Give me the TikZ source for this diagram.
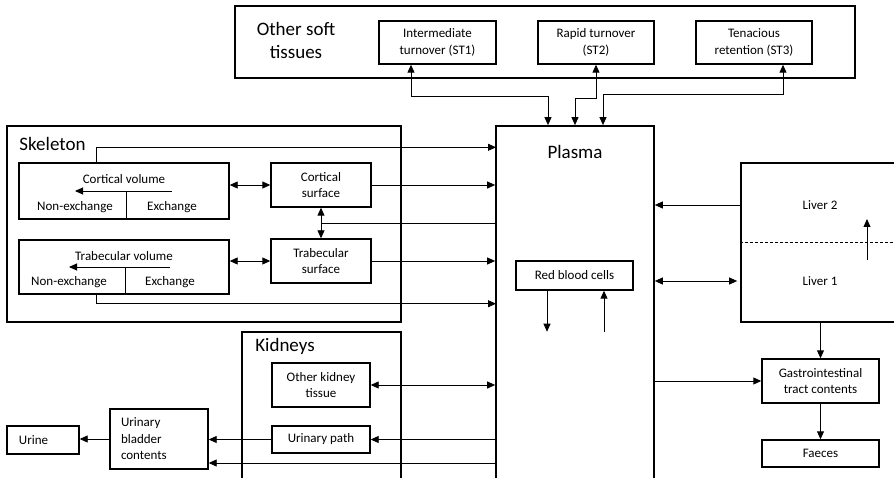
\documentclass[tikz,border=0pt]{standalone}
\usepackage{fontspec}
\setmainfont{Carlito}
\usetikzlibrary{arrows.meta,calc}

\begin{document}
\begin{tikzpicture}[x=1pt,y=-1pt,>={Triangle[length=8pt,width=7pt]},line width=0.9pt,
  box node/.style={draw,line width=1.4pt,inner sep=0pt,align=center,font=\fontsize{13}{16.5}\selectfont},
  group node/.style={draw,line width=1.7pt,inner sep=0pt},
  title node/.style={inner sep=0pt,align=center,font=\fontsize{19}{23}\selectfont},
  text node/.style={inner sep=0pt,font=\fontsize{13}{16}\selectfont}]

  \useasboundingbox (0,0) rectangle (894,478);

  \node[group node,minimum width=620pt,minimum height=72pt] (soft) at (545,42) {};
  \node[title node] (softt) at (296,40) {Other soft\\tissues};
  \node[box node,minimum width=117pt,minimum height=43pt] (st1) at (437.5,42.5) {Intermediate\\turnover (ST1)};
  \node[box node,minimum width=116pt,minimum height=43pt] (st2) at (596,42.5) {Rapid turnover\\(ST2)};
  \node[box node,minimum width=116pt,minimum height=43pt] (st3) at (754,42.5) {Tenacious\\retention (ST3)};

  \node[group node,minimum width=394pt,minimum height=196pt] (skel) at (204,224) {};
  \node[title node,anchor=west] (skelt) at (19,144) {Skeleton};
  \node[box node,minimum width=210pt,minimum height=56pt] (cvol) at (124,191) {};
  \node[text node] (cvolt) at (124,179) {Cortical volume};
  \node[text node] (cnon) at (75,207) {Non-exchange};
  \node[text node] (cex) at (172,207) {Exchange};
  \node[box node,minimum width=100pt,minimum height=44pt] (csurf) at (321,185) {Cortical\\surface};
  \node[box node,minimum width=210pt,minimum height=54pt] (tvol) at (124,267) {};
  \node[text node] (tvolt) at (124,256) {Trabecular volume};
  \node[text node] (tnon) at (69,282) {Non-exchange};
  \node[text node] (tex) at (170,282) {Exchange};
  \node[box node,minimum width=100pt,minimum height=44pt] (tsurf) at (321,261) {Trabecular\\surface};

  \node[group node,minimum width=158pt,minimum height=374pt] (plasma) at (575,313) {};
  \node[title node] (plasmat) at (575,152) {Plasma};
  \node[box node,minimum width=117pt,minimum height=29pt] (rbc) at (574.5,275.5) {Red blood cells};

  \node[group node,minimum width=169pt,minimum height=159pt] (liver) at (825.5,242.5) {};
  \node[text node] (lv2) at (820,205) {Liver 2};
  \node[text node] (lv1) at (820,281) {Liver 1};
  \node[box node,minimum width=117pt,minimum height=44pt] (gi) at (820.5,381) {Gastrointestinal\\tract contents};
  \node[box node,minimum width=117pt,minimum height=27pt] (faeces) at (820.5,453.5) {Faeces};

  \node[group node,minimum width=159pt,minimum height=168pt] (kid) at (321.5,416) {};
  \node[title node] (kidt) at (285,346) {Kidneys};
  \node[box node,minimum width=98pt,minimum height=44pt] (okt) at (321,385) {Other kidney\\tissue};
  \node[box node,minimum width=98pt,minimum height=27pt] (upath) at (321,439.5) {Urinary path};
  \node[box node,minimum width=98pt,minimum height=60pt,text width=76pt,align=left] (bladder) at (159,439) {Urinary\\bladder\\contents};
  \node[box node,minimum width=72pt,minimum height=28pt,text width=48pt,align=left] (urine) at (43,440) {Urine};

  \draw[<->] ([xshift=-26.5pt]st1.south) |- ([xshift=-27pt,yshift=29pt]plasma.north) -- ([xshift=-27pt]plasma.north);
  \draw[<->] (st2.south) |- ([yshift=27pt]plasma.north) -- (plasma.north);
  \draw[<->] ([xshift=29pt]st3.south) |- ([xshift=28pt,yshift=31pt]plasma.north) -- ([xshift=28pt]plasma.north);

  \draw[->] ([xshift=-28pt]cvol.north) |- ++(400,-15);
  \draw[->] (csurf.east) -- (csurf.east -| plasma.west);
  \draw[->] (tsurf.east) -- (tsurf.east -| plasma.west);
  \draw[->] ([xshift=-28pt]tvol.south) |- ++(400,9);
  \draw[<->] (cvol.east |- csurf.west) -- (csurf.west);
  \draw[<->] (tvol.east |- tsurf.west) -- (tsurf.west);
  \draw[<->] (csurf.south) -- (tsurf.north);
  \coordinate (cs) at ($(csurf.south)!.5!(tsurf.north)$);
  \draw (cs) -- (cs -| plasma.west);
  \draw[->] (cex |- cvol.center) -- (cnon |- cvol.center);
  \draw ([xshift=2pt]cvol.center) -- ([xshift=2pt]cvol.south);
  \draw[->] (tex |- tvol.center) -- (tnon |- tvol.center);
  \draw ([xshift=1pt]tvol.center) -- ([xshift=1pt]tvol.south);

  \draw[->] ([xshift=-27.5pt]rbc.south) -- ++(0,41);
  \draw[->] ([xshift=29.5pt,yshift=-41pt]rbc.south) -- ([xshift=29.5pt]rbc.south);

  \draw[dash pattern=on 3pt off 2pt,line width=0.6pt] (liver.west) -- (liver.east);
  \draw[->] ([xshift=41.5pt,yshift=-17.5pt]liver.center) -- ([xshift=41.5pt,yshift=23.5pt]liver.center);
  \draw[->] (lv2 -| liver.west) -- (lv2 -| plasma.east);
  \draw[<->,shorten >=3pt] (lv1 -| plasma.east) -- (lv1 -| liver.west);
  \draw[->] (gi.north |- liver.south) -- (gi.north);
  \draw[->] (gi.west -| plasma.east) -- (gi.west);
  \draw[->] (gi.south) -- (faeces.north);

  \draw[<->] (okt.east) -- (okt.east -| plasma.west);
  \draw[->] (upath.east -| plasma.west) -- (upath.east);
  \draw[->] (upath.west) -- (upath.west -| bladder.east);
  \coordinate (bl) at ([yshift=-24pt]bladder.east);
  \draw[->] (bl -| plasma.west) -- (bl);
  \draw[->] (bladder.west) -- (bladder.west -| urine.east);
\end{tikzpicture}
\end{document}
